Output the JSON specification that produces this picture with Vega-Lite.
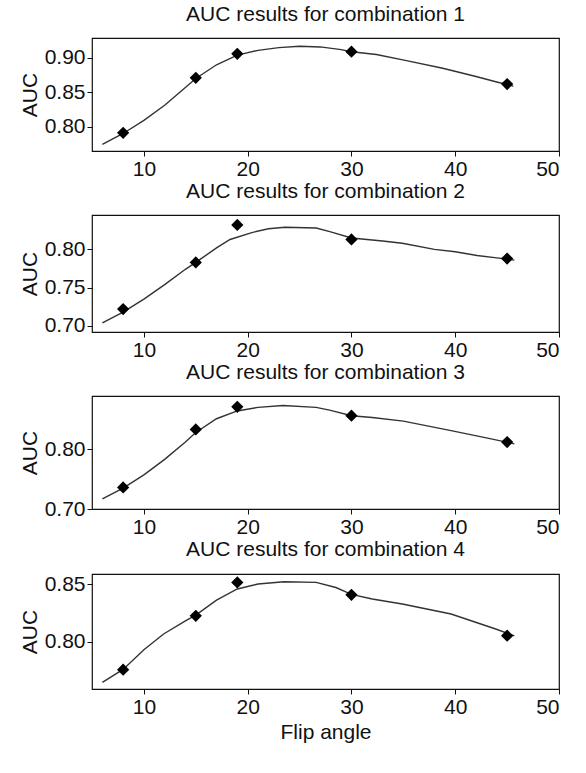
{
  "$schema": "https://vega.github.io/schema/vega-lite/v6.json",
  "background": "white",
  "padding": {"left": 18, "top": 3, "right": 0, "bottom": 0},
  "spacing": 0,
  "config": {
    "font": "Liberation Sans",
    "view": {"stroke": "#111", "strokeWidth": 1.2},
    "axis": {"grid": false, "domain": false, "tickColor": "#111", "labelFontSize": 21, "labelColor": "#111", "titleFontSize": 21, "titleFontWeight": "normal", "titleColor": "#111"},
    "title": {"fontSize": 21, "fontWeight": "normal", "color": "#111", "offset": 13}
  },
  "vconcat": [
    {
      "title": "AUC results for combination 1",
      "width": 467, "height": 113,
      "layer": [
        {"data": {"values": [{"angle": 6, "auc": 0.774}, {"angle": 8, "auc": 0.79}, {"angle": 10, "auc": 0.809}, {"angle": 12, "auc": 0.831}, {"angle": 14, "auc": 0.857}, {"angle": 15, "auc": 0.87}, {"angle": 17, "auc": 0.89}, {"angle": 19, "auc": 0.904}, {"angle": 21, "auc": 0.911}, {"angle": 23, "auc": 0.915}, {"angle": 25, "auc": 0.917}, {"angle": 27, "auc": 0.916}, {"angle": 29, "auc": 0.912}, {"angle": 30, "auc": 0.909}, {"angle": 32.4, "auc": 0.905}, {"angle": 35.3, "auc": 0.896}, {"angle": 38.8, "auc": 0.885}, {"angle": 42, "auc": 0.873}, {"angle": 44, "auc": 0.865}, {"angle": 45.6, "auc": 0.859}]},
         "mark": {"type": "line", "stroke": "#333", "strokeWidth": 1.4},
         "encoding": {
           "x": {"field": "angle", "type": "quantitative", "scale": {"domain": [5, 50], "nice": false, "zero": false}, "axis": {"values": [10, 20, 30, 40, 50], "title": null}},
           "y": {"field": "auc", "type": "quantitative", "scale": {"domain": [0.7645, 0.929], "nice": false, "zero": false}, "axis": {"values": [0.8, 0.85, 0.9], "title": "AUC"}}}},
        {"data": {"values": [{"angle": 8, "auc": 0.791}, {"angle": 15, "auc": 0.871}, {"angle": 19, "auc": 0.906}, {"angle": 30, "auc": 0.909}, {"angle": 45, "auc": 0.862}]},
         "mark": {"type": "point", "shape": "diamond", "filled": true, "color": "#000", "size": 150, "opacity": 1},
         "encoding": {
           "x": {"field": "angle", "type": "quantitative"},
           "y": {"field": "auc", "type": "quantitative"}}}
      ]
    },
    {
      "title": "AUC results for combination 2",
      "width": 467, "height": 117,
      "layer": [
        {"data": {"values": [{"angle": 6, "auc": 0.704}, {"angle": 8, "auc": 0.718}, {"angle": 10, "auc": 0.735}, {"angle": 12, "auc": 0.754}, {"angle": 14, "auc": 0.774}, {"angle": 15, "auc": 0.783}, {"angle": 17, "auc": 0.802}, {"angle": 18.3, "auc": 0.813}, {"angle": 20.4, "auc": 0.822}, {"angle": 22, "auc": 0.827}, {"angle": 23.6, "auc": 0.829}, {"angle": 26.6, "auc": 0.828}, {"angle": 28, "auc": 0.823}, {"angle": 30, "auc": 0.815}, {"angle": 33, "auc": 0.811}, {"angle": 34.9, "auc": 0.808}, {"angle": 38, "auc": 0.8}, {"angle": 40, "auc": 0.797}, {"angle": 42.1, "auc": 0.792}, {"angle": 44, "auc": 0.789}, {"angle": 45.7, "auc": 0.786}]},
         "mark": {"type": "line", "stroke": "#333", "strokeWidth": 1.4},
         "encoding": {
           "x": {"field": "angle", "type": "quantitative", "scale": {"domain": [5, 50], "nice": false, "zero": false}, "axis": {"values": [10, 20, 30, 40, 50], "title": null}},
           "y": {"field": "auc", "type": "quantitative", "scale": {"domain": [0.692, 0.845], "nice": false, "zero": false}, "axis": {"values": [0.7, 0.75, 0.8], "title": "AUC"}}}},
        {"data": {"values": [{"angle": 8, "auc": 0.722}, {"angle": 15, "auc": 0.783}, {"angle": 19, "auc": 0.832}, {"angle": 30, "auc": 0.813}, {"angle": 45, "auc": 0.788}]},
         "mark": {"type": "point", "shape": "diamond", "filled": true, "color": "#000", "size": 150, "opacity": 1},
         "encoding": {
           "x": {"field": "angle", "type": "quantitative"},
           "y": {"field": "auc", "type": "quantitative"}}}
      ]
    },
    {
      "title": "AUC results for combination 3",
      "width": 467, "height": 113,
      "layer": [
        {"data": {"values": [{"angle": 6, "auc": 0.717}, {"angle": 8, "auc": 0.735}, {"angle": 10, "auc": 0.757}, {"angle": 12, "auc": 0.783}, {"angle": 14, "auc": 0.812}, {"angle": 15, "auc": 0.828}, {"angle": 17, "auc": 0.851}, {"angle": 19, "auc": 0.864}, {"angle": 21, "auc": 0.87}, {"angle": 23.4, "auc": 0.873}, {"angle": 26.6, "auc": 0.87}, {"angle": 28, "auc": 0.865}, {"angle": 30, "auc": 0.856}, {"angle": 32, "auc": 0.853}, {"angle": 35, "auc": 0.847}, {"angle": 39.6, "auc": 0.831}, {"angle": 43, "auc": 0.819}, {"angle": 45.7, "auc": 0.809}]},
         "mark": {"type": "line", "stroke": "#333", "strokeWidth": 1.4},
         "encoding": {
           "x": {"field": "angle", "type": "quantitative", "scale": {"domain": [5, 50], "nice": false, "zero": false}, "axis": {"values": [10, 20, 30, 40, 50], "title": null}},
           "y": {"field": "auc", "type": "quantitative", "scale": {"domain": [0.7, 0.889], "nice": false, "zero": false}, "axis": {"values": [0.7, 0.8], "title": "AUC"}}}},
        {"data": {"values": [{"angle": 8, "auc": 0.736}, {"angle": 15, "auc": 0.833}, {"angle": 19, "auc": 0.871}, {"angle": 30, "auc": 0.856}, {"angle": 45, "auc": 0.812}]},
         "mark": {"type": "point", "shape": "diamond", "filled": true, "color": "#000", "size": 150, "opacity": 1},
         "encoding": {
           "x": {"field": "angle", "type": "quantitative"},
           "y": {"field": "auc", "type": "quantitative"}}}
      ]
    },
    {
      "title": "AUC results for combination 4",
      "width": 467, "height": 115,
      "layer": [
        {"data": {"values": [{"angle": 6, "auc": 0.7647}, {"angle": 8, "auc": 0.776}, {"angle": 10, "auc": 0.793}, {"angle": 11.9, "auc": 0.8067}, {"angle": 14, "auc": 0.818}, {"angle": 15, "auc": 0.823}, {"angle": 17, "auc": 0.836}, {"angle": 19, "auc": 0.8457}, {"angle": 21, "auc": 0.85}, {"angle": 23.5, "auc": 0.852}, {"angle": 26.6, "auc": 0.8514}, {"angle": 28.5, "auc": 0.847}, {"angle": 30, "auc": 0.841}, {"angle": 32, "auc": 0.837}, {"angle": 34.9, "auc": 0.8327}, {"angle": 39.6, "auc": 0.824}, {"angle": 43.9, "auc": 0.811}, {"angle": 45.7, "auc": 0.805}]},
         "mark": {"type": "line", "stroke": "#333", "strokeWidth": 1.4},
         "encoding": {
           "x": {"field": "angle", "type": "quantitative", "scale": {"domain": [5, 50], "nice": false, "zero": false}, "axis": {"values": [10, 20, 30, 40, 50], "title": "Flip angle"}},
           "y": {"field": "auc", "type": "quantitative", "scale": {"domain": [0.759, 0.8587], "nice": false, "zero": false}, "axis": {"values": [0.8, 0.85], "title": "AUC"}}}},
        {"data": {"values": [{"angle": 8, "auc": 0.7757}, {"angle": 15, "auc": 0.8225}, {"angle": 19, "auc": 0.8514}, {"angle": 30, "auc": 0.8407}, {"angle": 45, "auc": 0.8052}]},
         "mark": {"type": "point", "shape": "diamond", "filled": true, "color": "#000", "size": 150, "opacity": 1},
         "encoding": {
           "x": {"field": "angle", "type": "quantitative"},
           "y": {"field": "auc", "type": "quantitative"}}}
      ]
    }
  ]
}
